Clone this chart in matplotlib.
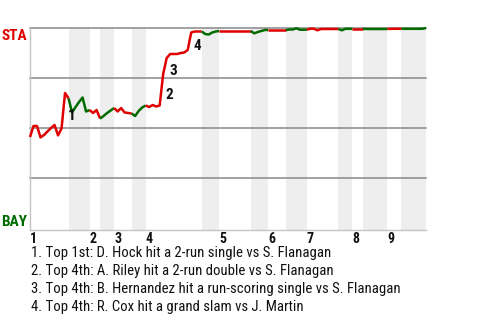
import matplotlib
matplotlib.use('Agg')
import matplotlib.pyplot as plt
import numpy as np

# ---- data: STA win probability (%) after each play, per half-inning ----
start_wp = 45.5
top1 = [51, 51, 45.3, 46.5, 48.3, 50, 51.5, 46.3, 49.8, 67.5, 64.8]
bot1 = [57.75, 60.5, 63, 65.25, 58.25, 59]
top2 = [57.5, 59, 54.75]
bot2 = [56, 57.5, 58.75, 60]
top3 = [58.25, 60, 57.75, 57.5, 57.25]
bot3 = [56, 58.5, 60.25, 61.25]
top4 = [60.5, 61.5, 60.75, 61.25, 77, 85, 87, 87, 87, 87.5, 87.75, 89, 97.75, 98.25, 98.25, 98.25]
bot4 = [97, 96.75, 97.75, 98.25, 98.5]
top5 = [98.5, 98.5, 98.5, 98.5, 98.5, 98.5, 98.5, 98.5, 98.5]
bot5 = [97.35, 98, 98.5, 99, 99]
top6 = [99, 99, 99, 99, 99]
bot6 = [99.25, 99.25, 99.85, 99.15, 99.15, 99.15]
top7 = [99.65, 99.65, 98.85, 99.5, 99.5, 99.5, 99.5, 99.5, 99.5]
bot7 = [98.85, 99.6, 99.6, 99.6]
top8 = [99.6, 99.6, 99.6]
bot8 = [99.5, 99.5, 99.5, 99.5, 99.5, 99.5, 99.5]
top9 = [99.6, 99.6, 99.6, 99.6]
bot9 = [99.6, 99.6, 99.6, 99.6, 99.6, 99.6, 100]
half_innings = [top1, bot1, top2, bot2, top3, bot3, top4, bot4, top5, bot5,
                top6, bot6, top7, bot7, top8, bot8, top9, bot9]

inning_labels = ['1', '2', '3', '4', '5', '6', '7', '8', '9']
event_labels = ['1', '2', '3', '4']
event_play_index = [10, 38, 39, 46]   # play (index) that produced the swing
event_texts = [
    "1. Top 1st: D. Hock hit a 2-run single vs S. Flanagan",
    "2. Top 4th: A. Riley hit a 2-run double vs S. Flanagan",
    "3. Top 4th: B. Hernandez hit a run-scoring single vs S. Flanagan",
    "4. Top 4th: R. Cox hit a grand slam vs J. Martin",
]
team_top, team_bottom = 'STA', 'BAY'

# ---- style ----
RED = '#e00000'
GREEN = '#006b00'
BAND = '#eeeeee'
GRID = '#888888'
FONT = ['Roboto Condensed', 'Roboto', 'DejaVu Sans']
plt.rcParams['font.family'] = FONT

W, H = 480, 320
fig = plt.figure(figsize=(W / 100, H / 100), dpi=100)
ax = fig.add_axes([30 / W, 90 / H, 396 / W, 202 / H])

x0 = 0
prev = start_wp
all_x = [0]
all_y = [start_wp]
inning_starts = []
for k, vals in enumerate(half_innings):
    n = len(vals)
    xs = np.arange(x0, x0 + n + 1)
    ys = [prev] + list(vals)
    bottom = (k % 2 == 1)
    if not bottom:
        inning_starts.append(x0)
    if bottom:
        ax.axvspan(x0, x0 + n, color=BAND, lw=0, zorder=0)
    ax.plot(xs, ys, color=GREEN if bottom else RED, lw=1.8, zorder=3,
            clip_on=False, solid_capstyle='butt')
    all_x.extend(xs[1:])
    all_y.extend(vals)
    x0 += n
    prev = vals[-1]

total = x0
ax.set_xlim(0, total)
ax.set_ylim(-1, 100)
for yv in (25, 50, 75, 100):
    ax.plot([0, total], [yv, yv], color=GRID, lw=1.1, zorder=1, clip_on=False)

for s in ('top', 'right'):
    ax.spines[s].set_visible(False)
for s in ('left', 'bottom'):
    ax.spines[s].set_color('#c4c4c4')
    ax.spines[s].set_linewidth(1.0)
ax.set_xticks([])
ax.set_yticks([])
ax.patch.set_alpha(0)

# inning labels
trans = ax.get_xaxis_transform()
for lab, xs in zip(inning_labels, inning_starts):
    ax.text(xs, -12.7 / 202, lab, transform=trans, ha='left', va='baseline',
            fontsize=10, fontweight='bold', color='#111111')

# event labels
for lab, idx in zip(event_labels, event_play_index):
    xm = (all_x[idx - 1] + all_x[idx]) / 2
    ym = (all_y[idx - 1] + all_y[idx]) / 2
    ax.annotate(lab, (xm, ym), xytext=(8, -5), textcoords='offset pixels',
                ha='center', va='center', fontsize=11, fontweight='bold',
                color='#111111', zorder=5, annotation_clip=False)

# team labels
fig.text(27 / W, 1 - 39.5 / H, team_top, ha='right', va='baseline',
         fontsize=11, fontweight='bold', color=RED)
fig.text(27 / W, 1 - 226 / H, team_bottom, ha='right', va='baseline',
         fontsize=11, fontweight='bold', color=GREEN)

# event descriptions
for i, t in enumerate(event_texts):
    fig.text(31 / W, 1 - (257 + 18 * i) / H, t, ha='left', va='baseline',
             fontsize=10.6, color='#111111')

fig.savefig('out.png', dpi=100)
